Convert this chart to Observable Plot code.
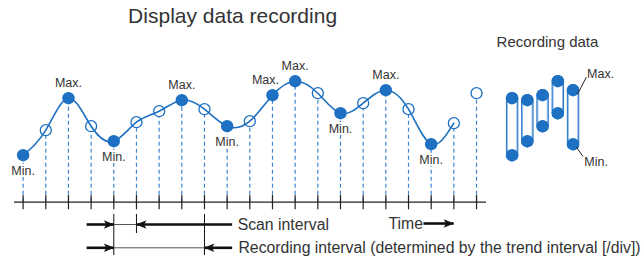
<!DOCTYPE html>
<html><head><meta charset="utf-8">
<script src="https://cdn.jsdelivr.net/npm/d3@7"></script>
<script src="https://cdn.jsdelivr.net/npm/@observablehq/plot@0.6"></script>
<style>body{margin:0;background:#fff;}</style>
</head><body><div id="chart"></div>
<script>
// ---- data ----
const scanIndex = d3.range(21);
const scanValues = [47, 72, 104, 76, 61, 80, 91, 102, 93, 76, 81, 107, 121, 109, 89, 99, 112, 93, 58, 79, 109];
const scansPerRecording = 4;
const labelMax = "Max.";
const labelMin = "Min.";
const titleText = "Display data recording";
const recordingTitle = "Recording data";
const scanLabel = "Scan interval";
const recordingLabel = "Recording interval (determined by the trend interval [/div])";
const timeLabel = "Time";
const exampleIntervalStart = 4; // scan index where the interval example starts

// ---- derived tables ----
const scans = scanIndex.map(i => ({i, v: scanValues[i], g: Math.floor(i / scansPerRecording), kind: null}));
const groups = d3.groups(scans, d => d.g).filter(([, m]) => m.length === scansPerRecording);
const recording = groups.map(([g, m], k) => {
  const lo = d3.least(m, d => d.v), hi = d3.greatest(m, d => d.v);
  lo.kind = "min"; hi.kind = "max";
  return {k, min: lo.v, max: hi.v};
});
const nFull = groups.length;

// layout/style constants
const blue = "#1d70c2";
const dashBlue = "#3f86cf";
const ink = "#333";
const pxX = 472 / 20.82; // pixels per x unit
const recX0 = 21.57, recDx = 0.672;
recording.forEach(d => d.x = recX0 + d.k * recDx);
const lastRec = recording[recording.length - 1];
const rowScan = -22.3, rowRec = -45.6;
const leftArrowX = 9.22;
const s0 = exampleIntervalStart, s1 = s0 + 1, r1 = s0 + scansPerRecording;

function notchArrow(color) {
  const m = d3.create("svg:marker")
    .attr("viewBox", "-11 -5 12 10")
    .attr("markerWidth", 12).attr("markerHeight", 10)
    .attr("markerUnits", "userSpaceOnUse")
    .attr("orient", "auto").attr("fill", color).attr("stroke", "none");
  m.append("path").attr("d", "M-10,-4.3L0.5,0L-10,4.3L-7.5,0Z");
  return m.node();
}

const font = "Liberation Sans, Arial, Helvetica, sans-serif";

const chart = Plot.plot({
  width: 644, height: 259,
  marginLeft: 14, marginRight: 158, marginTop: 0, marginBottom: 0,
  x: {domain: [-0.38, 20.44], axis: null},
  y: {domain: [-57.3, 201.7], axis: null},
  style: {fontFamily: font, background: "#fff", overflow: "visible"},
  marks: [
    // dashed sample lines
    Plot.ruleX(scans, {x: "i", y1: 0, y2: "v", stroke: dashBlue, strokeWidth: 1.2, strokeDasharray: "4,3"}),
    // time axis
    Plot.ruleY([0], {stroke: "#222", strokeWidth: 1.3}),
    Plot.ruleX(scans, {x: "i", y1: -7.6, y2: 6.7, stroke: "#222", strokeWidth: 1.2}),
    // hollow scans
    Plot.dot(scans.filter(d => !d.kind), {x: "i", y: "v", r: 5.5, stroke: blue, fill: "white", strokeWidth: 1.3}),
    // waveform
    Plot.line(scans.filter(d => d.g < nFull), {x: "i", y: "v", curve: "natural", stroke: blue, strokeWidth: 1.6}),
    // recorded min/max
    Plot.dot(scans.filter(d => d.kind), {x: "i", y: "v", r: 6.2, fill: blue}),
    Plot.text(scans.filter(d => d.kind === "min"), {x: "i", y: "v", text: () => labelMin, dy: 16, fontSize: 12.5, fill: ink, stroke: "white", strokeWidth: 4}),
    Plot.text(scans.filter(d => d.kind === "max" && !(scans[d.i + 1] && scans[d.i + 1].kind === "max")), {x: "i", y: "v", text: () => labelMax, dy: -15, fontSize: 12.5, fill: ink}),
    Plot.text(scans.filter(d => d.kind === "max" && scans[d.i + 1] && scans[d.i + 1].kind === "max"), {x: "i", y: "v", text: () => labelMax, dy: -15, dx: -7, fontSize: 12.5, fill: ink}),
    // titles
    Plot.text([titleText], {x: 9.24, y: 185.7, text: d => d, fontSize: 21, fill: ink, lineAnchor: "middle"}),
    Plot.text([recordingTitle], {x: 23.13, y: 160, text: d => d, fontSize: 15, fill: ink, lineAnchor: "middle"}),
    // recording data tubes
    Plot.link(recording, {x1: "x", x2: "x", y1: "min", y2: "max", stroke: blue, strokeWidth: 12.4, strokeLinecap: "round"}),
    Plot.link(recording, {x1: "x", x2: "x", y1: "min", y2: "max", stroke: "#8dbbe8", strokeWidth: 10.6, strokeLinecap: "round"}),
    Plot.link(recording, {x1: "x", x2: "x", y1: "min", y2: "max", stroke: "white", strokeWidth: 8.4, strokeLinecap: "round"}),
    Plot.dot(recording, {x: "x", y: "max", r: 6.2, fill: blue}),
    Plot.dot(recording, {x: "x", y: "min", r: 6.2, fill: blue}),
    // leaders
    Plot.link([lastRec], {x1: d => d.x + 4.6 / pxX, y1: d => d.max - 3.7, x2: d => d.x + 13.3 / pxX, y2: d => d.max + 13, stroke: "#222", strokeWidth: 1}),
    Plot.link([lastRec], {x1: d => d.x + 3.3 / pxX, y1: d => d.min - 3, x2: d => d.x + 10 / pxX, y2: d => d.min - 12.3, stroke: "#222", strokeWidth: 1}),
    Plot.text([lastRec], {x: d => d.x + 14 / pxX, y: d => d.max + 16.4, text: () => labelMax, textAnchor: "start", fontSize: 12.5, fill: ink, lineAnchor: "middle"}),
    Plot.text([lastRec], {x: d => d.x + 11.3 / pxX, y: d => d.min - 17.3, text: () => labelMin, textAnchor: "start", fontSize: 12.5, fill: ink, lineAnchor: "middle"}),
    // interval annotation: verticals
    Plot.ruleX([s0, r1], {x: d => d, y1: -12.3, y2: -53.3, stroke: "#111", strokeWidth: 1}),
    Plot.ruleX([s1], {x: d => d, y1: -12.3, y2: -31.3, stroke: "#111", strokeWidth: 1}),
    // thin interval lines
    Plot.link([[s0, s1, rowScan], [s0, r1, rowRec]], {x1: d => d[0], x2: d => d[1], y1: d => d[2], y2: d => d[2], stroke: "#555", strokeWidth: 1}),
    // thick arrows
    Plot.link([[s0 - 1.2, s0, rowScan], [s0 - 1.2, s0, rowRec], [leftArrowX, s1, rowScan], [leftArrowX, r1, rowRec], [17.66, 18.99, -21.3]],
      {x1: d => d[0], x2: d => d[1], y1: d => d[2], y2: d => d[2], stroke: "#111", strokeWidth: 2.6, markerEnd: notchArrow}),
    Plot.text([scanLabel], {x: leftArrowX, y: rowScan, dx: 5.5, text: d => d, textAnchor: "start", fontSize: 15.8, fill: ink, lineAnchor: "middle"}),
    Plot.text([recordingLabel], {x: leftArrowX, y: rowRec, dx: 6.3, text: d => d, textAnchor: "start", fontSize: 15.8, fill: ink, lineAnchor: "middle"}),
    Plot.text([timeLabel], {x: 17.66, y: -21.3, dx: -0.5, text: d => d, textAnchor: "end", fontSize: 15.8, fill: ink, lineAnchor: "middle"})
  ]
});
document.getElementById("chart").appendChild(chart);
</script>
</body></html>
